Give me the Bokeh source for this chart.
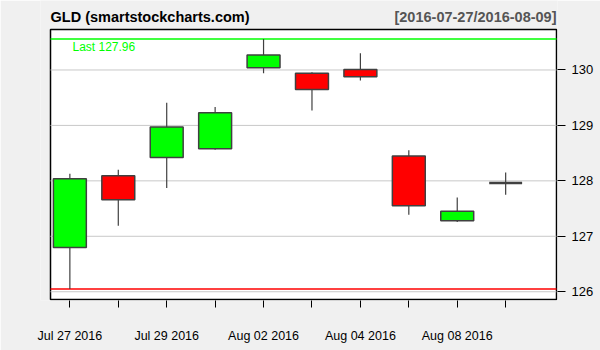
from bokeh.plotting import figure
from bokeh.models import ColumnDataSource, FixedTicker, Label, Range1d
from bokeh.embed import file_html
from bokeh.resources import INLINE

dates = ["Jul 27 2016", "Jul 28 2016", "Jul 29 2016", "Aug 01 2016", "Aug 02 2016",
         "Aug 03 2016", "Aug 04 2016", "Aug 05 2016", "Aug 08 2016", "Aug 09 2016"]
opens = [126.80, 128.09, 128.42, 128.58, 130.04, 129.94, 130.01, 128.45, 127.28, 127.96]
highs = [128.13, 128.20, 129.41, 129.33, 130.56, 129.96, 130.30, 128.55, 127.70, 128.15]
lows = [126.05, 127.19, 127.87, 128.56, 129.94, 129.27, 129.81, 127.39, 127.26, 127.75]
closes = [128.04, 127.66, 128.97, 129.23, 130.27, 129.65, 129.88, 127.55, 127.45, 127.96]
y_ticks = [126, 127, 128, 129, 130]
labelled = [0, 2, 4, 6, 8]
last_value = 127.96
title_left = "GLD (smartstockcharts.com)"
title_right = "[2016-07-27/2016-08-09]"

idx = list(range(len(dates)))
up = [c > o for o, c in zip(opens, closes)]
down = [c < o for o, c in zip(opens, closes)]
flat = [c == o for o, c in zip(opens, closes)]

def pick(mask, arr):
    return [a for a, m in zip(arr, mask) if m]

# plotting box (data extents) and its pixel placement
bx0, bx1, by0, by1 = -0.4, 10.05, 125.86, 130.73
px_l, px_r, px_t, px_b = 50, 556, 29, 299
ppx = (px_r - px_l) / (bx1 - bx0)
ppy = (px_b - px_t) / (by1 - by0)
fl, fr, fb = 40, 557, 300  # frame edges in canvas px, frame top = 0

x_lo = bx0 - (px_l - fl) / ppx
x_hi = bx1 + (fr - px_r) / ppx
y_hi = by1 + px_t / ppy
y_lo = by0 - (fb - px_b) / ppy

p = figure(width=600, height=350, output_backend="svg", toolbar_location=None,
           y_axis_location="right",
           x_range=Range1d(x_lo, x_hi), y_range=Range1d(y_lo, y_hi),
           min_border_left=fl, min_border_right=600 - fr, min_border_top=0,
           min_border_bottom=350 - fb)
p.background_fill_color = "#f0f0f0"
p.border_fill_color = "#f0f0f0"
p.outline_line_color = None
p.xgrid.visible = False
p.ygrid.visible = False

p.yaxis.ticker = FixedTicker(ticks=y_ticks)
p.yaxis.major_label_text_font = "Liberation Sans"
p.yaxis.major_label_text_font_size = "13px"
p.yaxis.major_label_text_color = "black"
p.yaxis.major_tick_out = 8
p.yaxis.major_tick_in = 0
p.yaxis.minor_tick_line_color = None
p.yaxis.axis_line_color = None
p.yaxis.major_tick_line_color = "black"
p.yaxis.major_label_standoff = 6

p.xaxis.ticker = FixedTicker(ticks=idx)
p.xaxis.major_label_overrides = {i: (dates[i] if i in labelled else "") for i in idx}
p.xaxis.major_label_text_font = "Liberation Sans"
p.xaxis.major_label_text_font_size = "12.5px"
p.xaxis.major_label_text_color = "black"
p.xaxis.major_tick_out = 7
p.xaxis.major_tick_in = 0
p.xaxis.minor_tick_line_color = None
p.xaxis.axis_line_color = None
p.xaxis.major_tick_line_color = "black"
p.xaxis.major_label_standoff = 21

# plotting box
p.quad(left=[bx0], right=[bx1], bottom=[by0], top=[by1], fill_color="white",
       line_color="black", line_width=1.5)
# grid lines
p.segment(x0=[bx0] * len(y_ticks), x1=[bx1] * len(y_ticks), y0=y_ticks, y1=y_ticks,
          line_color="#c8c8c8", line_width=1)
# max / min lines
p.segment(x0=[bx0], x1=[bx1], y0=[max(highs)], y1=[max(highs)], line_color="#00ff00", line_width=1.5)
p.segment(x0=[bx0], x1=[bx1], y0=[min(lows)], y1=[min(lows)], line_color="#ff0000", line_width=1.5)

src = ColumnDataSource(dict(x=idx, o=opens, h=highs, l=lows, c=closes))
p.segment(x0="x", y0="h", x1="x", y1="l", source=src, line_color="#404040", line_width=1.2)

w = 0.68
p.vbar(x=pick(up, idx), width=w, bottom=pick(up, opens), top=pick(up, closes),
       fill_color="#00ff00", line_color="#404040", line_width=1.5)
p.vbar(x=pick(down, idx), width=w, bottom=pick(down, closes), top=pick(down, opens),
       fill_color="#ff0000", line_color="#404040", line_width=1.5)
fx = pick(flat, idx)
fy = pick(flat, closes)
p.segment(x0=[x - w / 2 for x in fx], y0=fy, x1=[x + w / 2 for x in fx], y1=fy,
          line_color="#404040", line_width=2.5)

p.add_layout(Label(x=bx0 + 22 / ppx, y=max(highs), text="Last %.2f" % last_value,
                   text_color="#00ff00", text_font="Liberation Sans", text_font_size="12px",
                   text_baseline="top", y_offset=-1))

title_y = by1 + 13 / ppy
p.add_layout(Label(x=bx0, y=title_y, text=title_left, text_font="Liberation Sans",
                   text_font_style="bold", text_font_size="14.5px", text_baseline="middle",
                   text_color="black"))
p.add_layout(Label(x=bx1, y=title_y, text=title_right, text_font="Liberation Sans",
                   text_font_style="bold", text_font_size="14.5px", text_baseline="middle",
                   text_align="right", text_color="#555555"))

open("out.html", "w").write(file_html(p, INLINE))
